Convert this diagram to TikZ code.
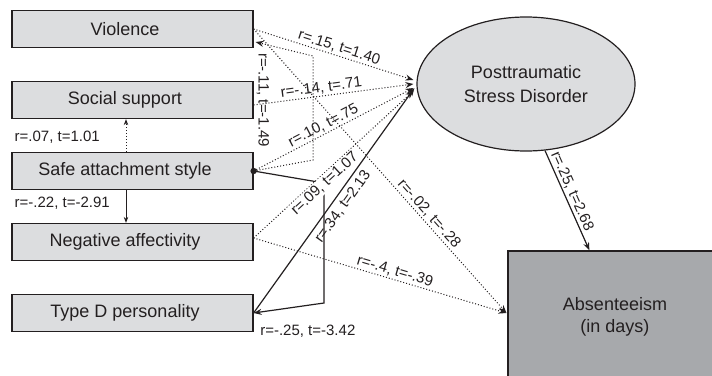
\documentclass[tikz,border=0pt]{standalone}
\usepackage{fontspec}
\setmainfont{Liberation Sans}
\usetikzlibrary{arrows.meta,shapes.geometric,calc}
\definecolor{boxfill}{HTML}{DCDDDF}
\definecolor{absfill}{HTML}{A7A9AC}
\definecolor{ink}{HTML}{231F20}
\begin{document}
\begin{tikzpicture}[x=1pt,y=-1pt,
  box/.style={draw=ink, line width=1.2pt, fill=boxfill, minimum width=241pt, minimum height=37pt, inner sep=0pt,
    font=\fontsize{18}{21}\selectfont, text=ink, execute at begin node={\hspace*{-15pt}}},
  lab/.style={font=\fontsize{15}{17}\selectfont, inner sep=1.5pt, text=ink},
  dotarrow/.style={draw=ink, line width=1pt, dash pattern=on 1pt off 2pt, -{Stealth[length=8pt,width=6pt]}},
  solarrow/.style={draw=ink, line width=1.2pt, -{Stealth[length=8pt,width=6pt]}},
  smalltip/.style={-{Stealth[length=6pt,width=4.5pt]}},
]
\clip (0,0) rectangle (712,375);

% boxes
\node[box] (vio)  at (132.5,29)  {Violence};
\node[box] (soc)  at (132.5,100) {Social support};
\node[box] (safe) at (132.5,171) {Safe attachment style};
\node[box] (neg)  at (132.5,242) {Negative affectivity};
\node[box] (typ)  at (132.5,313) {Type D personality};

\node[ellipse, draw=ink, line width=1.2pt, fill=boxfill, minimum width=218pt, minimum height=134pt, inner sep=0pt,
  align=center, text=ink, font=\fontsize{18}{24}\selectfont] (ptsd) at (526,84) {Posttraumatic\\Stress Disorder};

\node[draw=ink, line width=1.2pt, fill=absfill, minimum width=214pt, minimum height=132pt, inner sep=0pt,
  align=center, text=ink, font=\fontsize{18}{22}\selectfont] (abs) at (615,317) {Absenteeism\\(in days)};

% tip coordinates on the ellipse
\coordinate (t1) at ($(ptsd.west)+(-3,-4)$);
\coordinate (t2) at ($(ptsd.west)+(-3,0)$);
\coordinate (t3) at ($(ptsd.west)+(-3,4)$);
\coordinate (t4) at ($(ptsd.west)+(-3,7)$);
\coordinate (t5) at ($(ptsd.west)+(-2,4)$);
\coordinate (ta) at ($(abs.west)+(-1,-4)$);

% bends
\coordinate (b1) at (313,160);
\coordinate (b2) at (313,56);
\coordinate (c1) at (324,183);
\coordinate (c2) at (324,303);

% safe -> type D (solid, bent)
\draw[solarrow] (safe.east) -- (c1) -- (c2) -- (typ.east);
\node[lab, anchor=west] at ($(typ.south east)+(5,-1)$) {r=-.25, t=-3.42};

% safe -> violence (dotted, bent)
\draw[dotarrow] (safe.east) -- (b1) -- (b2) -- ($(vio.east)+(2,13)$);
\node[lab, rotate=-90] at (263,100) {r=-.11, t=-1.49};

% to PTSD
\draw[dotarrow] (vio.east) -- node[lab, sloped, above, pos=0.52] {r=.15, t=1.40} (t1);
\draw[dotarrow] ($(soc.east)+(0,5)$) -- node[lab, sloped, above, pos=0.43] {r=-.14, t=.71} (t2);
\draw[dotarrow] (safe.east) -- node[lab, sloped, above, pos=0.46] {r=.10, t=.75} (t3);
\draw[dotarrow] ($(neg.east)+(0,-4)$) -- node[lab, sloped, below, pos=0.41, fill=white] {r=.09, t=1.07} (t4);
\draw[solarrow] (typ.east) -- node[lab, sloped, below=2.5pt, pos=0.5] {r=.34, t=2.13} (t5);

% to absenteeism
\draw[dotarrow] (vio.east) -- node[lab, sloped, above, pos=0.67] {r=-.02, t=-.28} (ta);
\draw[dotarrow] ($(neg.east)+(0,-4)$) -- node[lab, sloped, above, pos=0.55] {r=-.4, t=-.39} (ta);
\draw[solarrow] ($(ptsd.south)+(19,-1)$) -- node[lab, sloped, above, pos=0.44] {r=.25, t=2.68} ($(abs.north west)+(82,0)$);

% vertical arrows
\draw[dotarrow, smalltip] ($(safe.north)+(-6.5,0)$) -- ($(soc.south)+(-6.5,0)$);
\node[lab, anchor=west] at (13,137) {r=.07, t=1.01};
\draw[solarrow, line width=1pt, smalltip] ($(safe.south)+(-6.5,0)$) -- ($(neg.north)+(-6.5,0)$);
\node[lab, anchor=west] at (13,203) {r=-.22, t=-2.91};

% dot
\fill[ink] (safe.east) circle[radius=3.2pt];
\end{tikzpicture}
\end{document}
